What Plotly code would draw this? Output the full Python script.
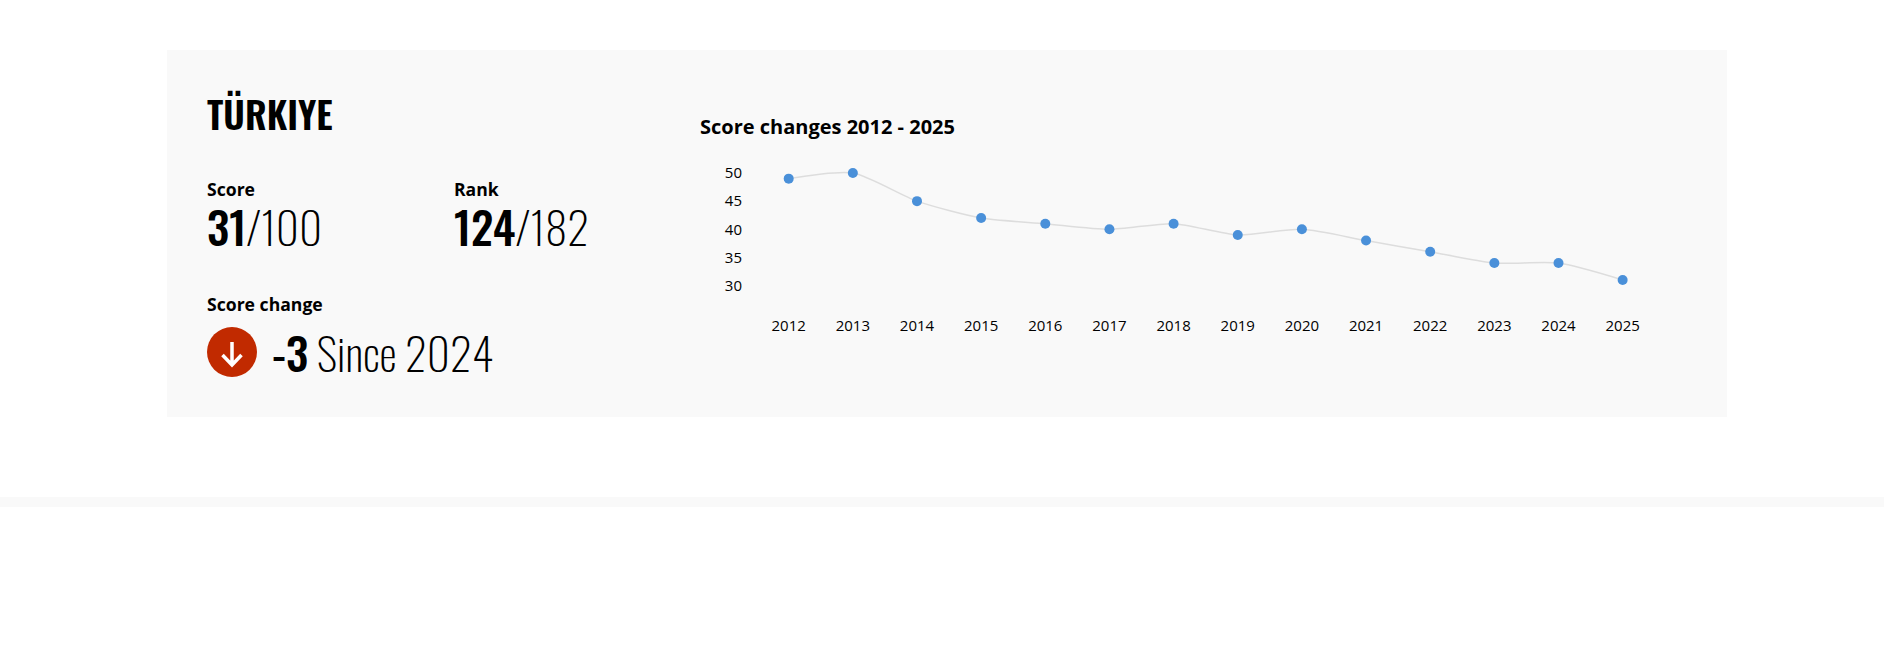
import plotly.graph_objects as go

W, H = 1884, 648
years = list(range(2012, 2026))
scores = [49, 50, 45, 42, 41, 40, 41, 39, 40, 38, 36, 34, 34, 31]
y_ticks = [30, 35, 40, 45, 50]
country = "TÜRKIYE"
score_now, score_max = 31, 100
rank_now, rank_max = 124, 182
change, since = -3, 2024
chart_title = "Score changes 2012 - 2025"

OPEN = "Open Sans"
OSW = "Oswald, Open Sans"
px = lambda x: x / W
py = lambda y: 1 - y / H

fig = go.Figure(go.Scatter(
    x=years, y=scores, mode="lines+markers", hoverinfo="x+y",
    line=dict(color="#dddddd", width=1.5, shape="spline", smoothing=0.7),
    marker=dict(color="#4a90d9", size=10),
))

def text(x, y, s, size, family=OPEN, color="#000000"):
    fig.add_annotation(xref="paper", yref="paper", x=px(x), y=py(y), text=s,
                       showarrow=False, xanchor="left", yanchor="middle",
                       font=dict(family=family, size=size, color=color),
                       borderpad=0, borderwidth=0)

LIGHT = '<span style="font-weight:200">'
MED = '<span style="font-weight:500">'
text(206.5, 113, f'<span style="font-weight:600">{country}</span>', 37.3, OSW)
text(206.5, 189, "<b>Score</b>", 17.6)
text(454, 189, "<b>Rank</b>", 17.6)
text(206.5, 304, "<b>Score change</b>", 17.6)
text(700, 127, f"<b>{chart_title}</b>", 20)
text(206.5, 226, f"{MED}{score_now}</span>{LIGHT}/{score_max}</span>", 44.8, OSW)
text(454, 226, f"{MED}{rank_now}</span>{LIGHT}/{rank_max}</span>", 44.8, OSW)
text(272, 352, f"{MED}{change}</span>{LIGHT} Since {since}</span>", 44.8, OSW)

shapes = [
    dict(type="rect", xref="paper", yref="paper", layer="below", x0=px(167), x1=px(1727),
         y0=py(50), y1=py(417), fillcolor="#f9f9f9", line_width=0),
    dict(type="rect", xref="paper", yref="paper", layer="below", x0=0, x1=1,
         y0=py(497), y1=py(507), fillcolor="#f9f9f9", line_width=0),
    dict(type="circle", xref="paper", yref="paper", x0=px(207), x1=px(257),
         y0=py(327), y1=py(377), fillcolor="#c12a00", line_width=0),
    dict(type="path", xref="paper", yref="paper", line=dict(color="#ffffff", width=3.5),
         path=f"M {px(232)} {py(342)} L {px(232)} {py(365)} "
              f"M {px(222.5)} {py(355)} L {px(232)} {py(365)} L {px(241.5)} {py(355)}"),
]

# plot area: 30 at y=285.6, 50 at y=173; 2012 at x=788.7, 2025 at x=1622.6
LEFT, RIGHT, TOP, BOTTOM = 743, 1660, 160, 315
fig.update_layout(
    width=W, height=H, margin=dict(l=0, r=0, t=0, b=0), autosize=False,
    paper_bgcolor="#ffffff", plot_bgcolor="rgba(0,0,0,0)", showlegend=False,
    shapes=shapes, font=dict(family=OPEN, size=15, color="#000000"),
    xaxis=dict(domain=[px(LEFT), px(RIGHT)], tickmode="array", tickvals=years,
               range=[2012 + (LEFT - 788.7) / 64.15, 2012 + (RIGHT - 788.7) / 64.15],
               showgrid=False, zeroline=False, showline=False, ticks="",
               tickfont=dict(family=OPEN, size=15)),
    yaxis=dict(domain=[py(BOTTOM), py(TOP)], tickmode="array", tickvals=y_ticks,
               range=[30 + (285.6 - BOTTOM) / 5.63, 30 + (285.6 - TOP) / 5.63],
               showgrid=False, zeroline=False, showline=False, ticks="",
               tickfont=dict(family=OPEN, size=15)),
)
fig.write_html("out.html", post_script="document.body.style.margin='0';document.documentElement.style.overflow='hidden';",
               config={"displayModeBar": False})
